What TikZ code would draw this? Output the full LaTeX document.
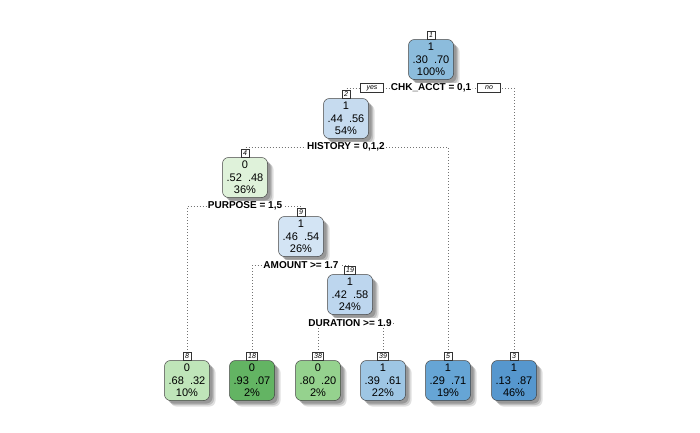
\documentclass[tikz,border=0pt]{standalone}
\usepackage{fontspec}
\setmainfont{Liberation Sans}
\usetikzlibrary{positioning,shadows}

\definecolor{blueA}{HTML}{8CBCDC}
\definecolor{blueB}{HTML}{C6DBEF}
\definecolor{blueC}{HTML}{D3E4F4}
\definecolor{blueD}{HTML}{BDD6EE}
\definecolor{blueE}{HTML}{9EC6E4}
\definecolor{blueF}{HTML}{66A5D5}
\definecolor{blueG}{HTML}{5697CE}
\definecolor{greenA}{HTML}{DFF2DA}
\definecolor{greenB}{HTML}{BFE5B9}
\definecolor{greenC}{HTML}{63B463}
\definecolor{greenD}{HTML}{95D28E}

\pgfdeclarelayer{back}
\pgfdeclarelayer{lines}
\pgfsetlayers{back,lines,main}

\tikzset{
  box/.style = {draw = black!75, line width = 0.5pt, rounded corners = 6pt,
    align = center, minimum width = 45pt, minimum height = 40pt, inner sep = 1pt,
    font = \fontsize{11}{12.5}\selectfont,
    execute at begin node = \rule{0pt}{11pt},
    drop shadow = {shadow xshift = 6pt, shadow yshift = -6pt, opacity = 0.12, fill = black},
    drop shadow = {shadow xshift = 4.5pt, shadow yshift = -4.5pt, opacity = 0.15, fill = black},
    drop shadow = {shadow xshift = 3pt, shadow yshift = -3pt, opacity = 0.2, fill = black}},
  numtag/.style = {draw = black!80, fill = white, line width = 0.4pt, minimum height = 7.5pt,
    minimum width = 8.5pt, inner xsep = 1.5pt, inner ysep = 0.3pt,
    font = \fontsize{7}{7}\selectfont\itshape},
  split/.style = {fill = white, inner sep = 1pt, font = \fontsize{10}{12}\selectfont\bfseries},
  yesno/.style = {draw = black!80, fill = white, line width = 0.4pt, minimum width = 23pt,
    minimum height = 9pt, inner sep = 0.5pt, font = \fontsize{7}{7}\selectfont\itshape},
  branch/.style = {draw = black!55, line width = 0.5pt, dash pattern = on 0.5pt off 2.5pt}
}

\begin{document}
\begin{tikzpicture}[x = 1pt, y = -1pt]

  \begin{pgfonlayer}{back}
    \fill [white] (0,0) rectangle (700,432);
  \end{pgfonlayer}

  % split nodes
  \node [box, fill = blueA] (n1) at (431,59.5) {1\\.30\ \ .70\\100\%};
  \node [box, fill = blueB] (n2) at (346,118.5) {1\\.44\ \ .56\\54\%};
  \node [box, fill = greenA] (n4) at (245,177.5) {0\\.52\ \ .48\\36\%};
  \node [box, fill = blueC] (n9) at (301,236.5) {1\\.46\ \ .54\\26\%};
  \node [box, fill = blueD] (n19) at (350,294.5) {1\\.42\ \ .58\\24\%};

  % leaves
  \foreach \id/\x/\col/\cl/\pa/\pb/\pc in {8/187/greenB/0/.68/.32/10,
      18/252/greenC/0/.93/.07/2, 38/318/greenD/0/.80/.20/2,
      39/383/blueE/1/.39/.61/22, 5/448/blueF/1/.29/.71/19, 3/514/blueG/1/.13/.87/46}
    \node [box, fill = \col] (n\id) at (\x,380.5) {\cl\\\pa\ \ \pb\\\pc\%};

  % node numbers
  \foreach \id in {1,2,4,9,19,8,18,38,39,5,3}
    \node [numtag, above = 0pt of n\id] (t\id) {\id};

  % split labels
  \node [split] (s1) at (431,88) {CHK\_ACCT = 0,1};
  \node [split] (s2) at (346,147) {HISTORY = 0,1,2};
  \node [split] (s4) at (245,206) {PURPOSE = 1,5};
  \node [split] (s9) at (301,265) {AMOUNT >= 1.7};
  \node [split] (s19) at (350,323) {DURATION >= 1.9};

  \node [yesno, left = 6pt of s1] (yes) {yes};
  \node [yesno, right = 5pt of s1] (no) {no};

  \begin{pgfonlayer}{lines}
    \draw [branch] (t2.north) |- (s1);
    \draw [branch] (t3.north) |- (s1);
    \draw [branch] (t4.north) |- (s2);
    \draw [branch] (t5.north) |- (s2);
    \draw [branch] (t8.north) |- (s4);
    \draw [branch] (t9.north) |- (s4);
    \draw [branch] (t18.north) |- (s9);
    \draw [branch] (t19.north) |- (s9);
    \draw [branch] (t38.north) |- (s19);
    \draw [branch] (t39.north) |- (s19);
  \end{pgfonlayer}

\end{tikzpicture}
\end{document}
